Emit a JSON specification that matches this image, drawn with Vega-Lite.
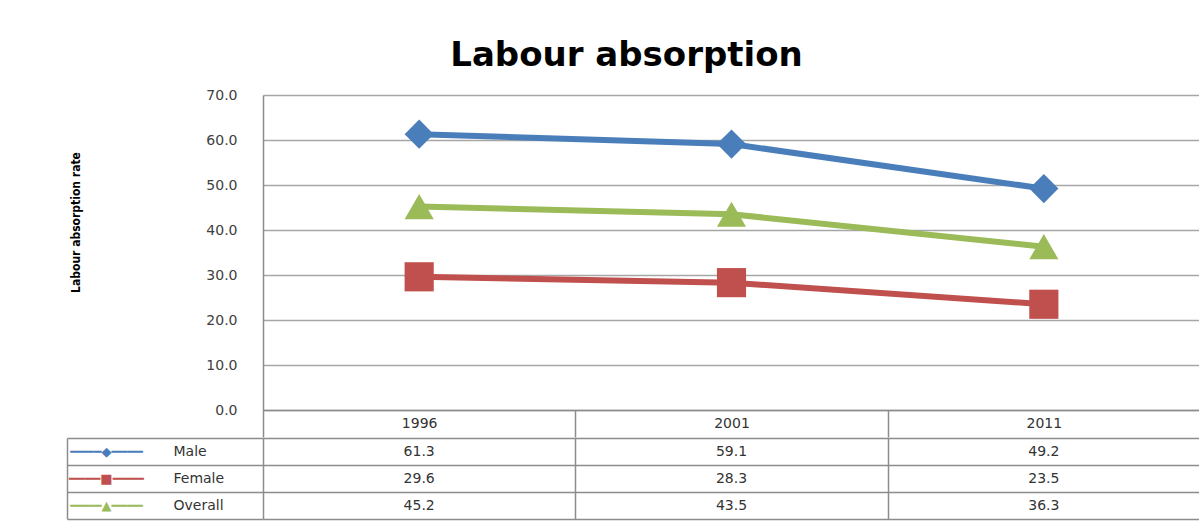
{
  "$schema": "https://vega.github.io/schema/vega-lite/v6.json",
  "background": "white",
  "padding": {"left": 66, "top": 39, "right": 0, "bottom": 3},
  "title": {"text": "Labour absorption", "font": "DejaVu Sans", "fontSize": 34, "fontWeight": "bold", "color": "#000000", "anchor": "middle", "offset": 15, "dx": -7},
  "datasets": {
    "rates": [
      {"year": "1996", "series": "Male", "value": 61.3},
      {"year": "2001", "series": "Male", "value": 59.1},
      {"year": "2011", "series": "Male", "value": 49.2},
      {"year": "1996", "series": "Female", "value": 29.6},
      {"year": "2001", "series": "Female", "value": 28.3},
      {"year": "2011", "series": "Female", "value": 23.5},
      {"year": "1996", "series": "Overall", "value": 45.2},
      {"year": "2001", "series": "Overall", "value": 43.5},
      {"year": "2011", "series": "Overall", "value": 36.3}
    ]
  },
  "spacing": -7,
  "config": {"view": {"stroke": null}},
  "vconcat": [
    {
      "width": 937,
      "height": 315,
      "data": {"name": "rates"},
      "encoding": {
        "x": {
          "field": "year", "type": "ordinal",
          "scale": {"type": "band", "domain": ["1996", "2001", "2011"], "paddingInner": 0, "paddingOuter": 0},
          "axis": {"title": null, "domain": true, "domainColor": "#8c8c8c", "domainWidth": 1.5, "ticks": true, "tickBand": "extent", "tickSize": 27, "tickColor": "#8c8c8c", "tickWidth": 1.5, "labelPadding": -14, "labelBaseline": "middle", "labelFont": "DejaVu Sans", "labelFontSize": 14, "labelColor": "#333333", "labelAngle": 0, "grid": false}
        },
        "y": {
          "field": "value", "type": "quantitative",
          "scale": {"domain": [0, 70], "nice": false},
          "axis": {"title": "Labour absorption rate", "values": [0, 10, 20, 30, 40, 50, 60, 70], "format": ".1f", "grid": true, "gridColor": "#a6a6a6", "gridWidth": 1.5, "ticks": false, "domain": true, "domainColor": "#8c8c8c", "domainWidth": 1.5, "labelPadding": 26, "labelFont": "DejaVu Sans", "labelFontSize": 14, "labelColor": "#404040", "titleFont": "DejaVu Sans Condensed, Liberation Sans", "titleFontWeight": "bold", "titleFontSize": 12, "titleColor": "#000000", "titlePadding": 123, "titleY": 127}
        },
        "color": {
          "field": "series", "type": "nominal",
          "scale": {"domain": ["Male", "Female", "Overall"], "range": ["#4a7ebb", "#c0504d", "#9bbb59"]},
          "legend": null
        }
      },
      "layer": [
        {"mark": {"type": "line", "strokeWidth": 6}},
        {
          "mark": {"type": "point", "filled": true, "opacity": 1, "size": 850, "strokeWidth": 1},
          "encoding": {
            "shape": {"field": "series", "type": "nominal", "scale": {"domain": ["Male", "Female", "Overall"], "range": ["diamond", "square", "triangle-up"]}, "legend": null}
          }
        }
      ]
    },
    {
      "width": 937,
      "height": 81,
      "data": {"name": "rates"},
      "encoding": {
        "x": {
          "field": "year", "type": "ordinal",
          "scale": {"type": "band", "domain": ["1996", "2001", "2011"], "paddingInner": 0, "paddingOuter": 0},
          "axis": {"title": null, "labels": false, "ticks": false, "domain": false, "grid": true, "tickBand": "extent", "gridColor": "#8c8c8c", "gridWidth": 1.5}
        }
      },
      "layer": [
        {
          "mark": {"type": "text", "font": "DejaVu Sans", "fontSize": 14, "color": "#333333"},
          "encoding": {
            "y": {
              "field": "series", "type": "nominal",
              "scale": {"type": "band", "domain": ["Male", "Female", "Overall"], "paddingInner": 0, "paddingOuter": 0},
              "axis": {"title": null, "orient": "left", "offset": 196, "domain": true, "domainColor": "#8c8c8c", "domainWidth": 1.5, "ticks": true, "tickSize": -196, "tickBand": "extent", "tickColor": "#8c8c8c", "tickWidth": 1.5, "grid": true, "gridColor": "#8c8c8c", "gridWidth": 1.5, "labelAlign": "left", "labelPadding": 90, "labelFont": "DejaVu Sans", "labelFontSize": 14, "labelColor": "#333333"}
            },
            "text": {"field": "value", "type": "quantitative", "format": ".1f"}
          }
        },
        {
          "mark": {"type": "text", "text": ""},
          "encoding": {
            "y": {
              "field": "series", "type": "nominal",
              "scale": {"type": "band", "domain": ["Male", "Female", "Overall"], "paddingInner": 0, "paddingOuter": 0},
              "axis": {"title": null, "orient": "left", "domain": false, "ticks": false, "grid": false, "labelAlign": "center", "labelPadding": 157, "labelFont": "DejaVu Sans", "labelFontSize": 13,
                "labelExpr": "datum.value == 'Male' ? '━━━━◆━━━━' : datum.value == 'Female' ? '━━━━■━━━━' : '━━━━▲━━━━'",
                "labelColor": {"condition": [{"test": "datum.value == 'Male'", "value": "#4a7ebb"}, {"test": "datum.value == 'Female'", "value": "#c0504d"}], "value": "#9bbb59"}}
            }
          }
        }
      ],
      "resolve": {"scale": {"y": "independent"}}
    }
  ]
}
